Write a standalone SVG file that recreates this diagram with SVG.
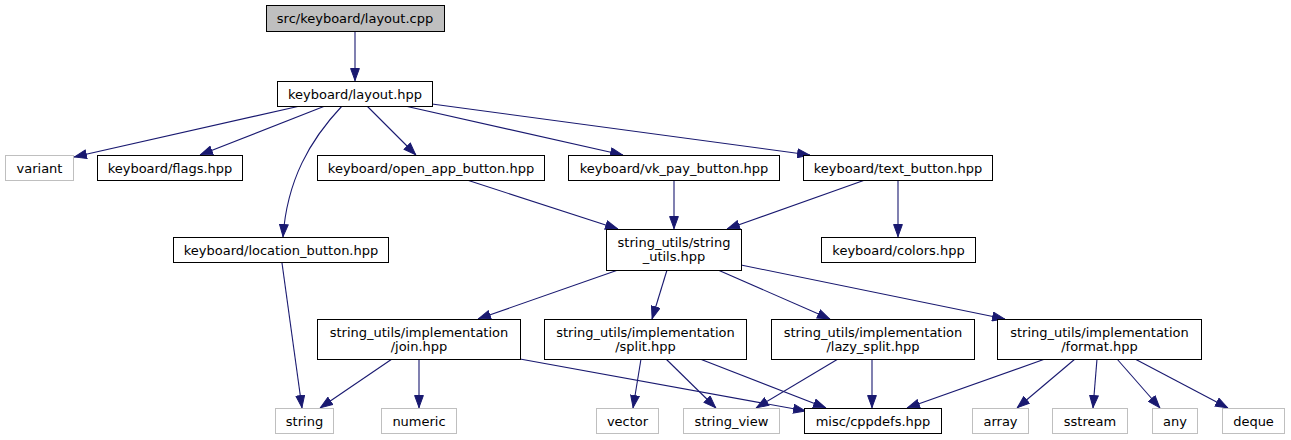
<svg xmlns="http://www.w3.org/2000/svg" width="1291" height="440" viewBox="0 0 1291 440">
<style>
.n rect{fill:#ffffff;stroke:#000000;stroke-width:1}
.g rect{fill:#ffffff;stroke:#bfbfbf;stroke-width:1}
.root rect{fill:#bfbfbf;stroke:#000000;stroke-width:1}
text{font-family:"DejaVu Sans","Liberation Sans",sans-serif;font-size:13px;fill:#000000;text-anchor:middle}
.e path,.e line{stroke:#191970;stroke-width:1.1;fill:none;marker-end:url(#ah)}
</style>
<defs>
<marker id="ah" markerUnits="userSpaceOnUse" markerWidth="13" markerHeight="10" refX="13" refY="5" orient="auto" viewBox="0 0 13 10">
<path d="M0.5,0.6 L12.5,5 L0.5,9.4 z" fill="#191970" stroke="#191970" stroke-width="1"/>
</marker>
</defs>
<rect width="1291" height="440" fill="#ffffff"/>
<g id="edges" class="e">
<line x1="355" y1="31" x2="355" y2="81"/>
<line x1="300" y1="106" x2="74" y2="157"/>
<line x1="325" y1="106" x2="200" y2="155"/>
<path d="M342,106 C310,140 287,180 283,237"/>
<line x1="367" y1="106" x2="416" y2="155"/>
<line x1="405" y1="106" x2="623" y2="155"/>
<line x1="432" y1="104" x2="810" y2="155"/>
<line x1="467" y1="180" x2="618" y2="229"/>
<line x1="674" y1="180" x2="674" y2="229"/>
<line x1="865" y1="180" x2="727" y2="229"/>
<line x1="898" y1="180" x2="898" y2="237"/>
<line x1="282" y1="263" x2="302" y2="408"/>
<line x1="618" y1="270" x2="478" y2="319"/>
<line x1="667" y1="270" x2="652" y2="319"/>
<line x1="718" y1="270" x2="830" y2="319"/>
<line x1="741" y1="265" x2="1005" y2="319"/>
<line x1="392" y1="359" x2="320" y2="408"/>
<line x1="419" y1="359" x2="419" y2="408"/>
<line x1="520" y1="359" x2="806" y2="411"/>
<line x1="641" y1="359" x2="633" y2="408"/>
<line x1="666" y1="359" x2="716" y2="408"/>
<line x1="700" y1="359" x2="826" y2="408"/>
<line x1="838" y1="359" x2="756" y2="408"/>
<line x1="872" y1="359" x2="872" y2="408"/>
<line x1="1045" y1="359" x2="907" y2="408"/>
<line x1="1075" y1="359" x2="1017" y2="408"/>
<line x1="1097" y1="359" x2="1093" y2="408"/>
<line x1="1117" y1="359" x2="1160" y2="408"/>
<line x1="1135" y1="359" x2="1228" y2="408"/>
</g>
<g id="node_layout_cpp" class="root"><rect x="266.5" y="5.5" width="178" height="26"/><text x="355" y="23">src/keyboard/layout.cpp</text></g>
<g id="node_layout_hpp" class="n"><rect x="277.5" y="81.5" width="155" height="25"/><text x="355" y="98.5">keyboard/layout.hpp</text></g>
<g id="node_variant" class="g"><rect x="5.5" y="155.5" width="68" height="25"/><text x="39.5" y="172.5">variant</text></g>
<g id="node_flags" class="n"><rect x="97.5" y="155.5" width="145" height="25"/><text x="170" y="172.5">keyboard/flags.hpp</text></g>
<g id="node_open_app" class="n"><rect x="317.5" y="155.5" width="227" height="25"/><text x="431" y="172.5">keyboard/open_app_button.hpp</text></g>
<g id="node_vk_pay" class="n"><rect x="568.5" y="155.5" width="211" height="25"/><text x="674" y="172.5">keyboard/vk_pay_button.hpp</text></g>
<g id="node_text_button" class="n"><rect x="803.5" y="155.5" width="189" height="25"/><text x="898" y="172.5">keyboard/text_button.hpp</text></g>
<g id="node_location" class="n"><rect x="173.5" y="237.5" width="215" height="25"/><text x="281" y="254.5">keyboard/location_button.hpp</text></g>
<g id="node_string_utils" class="n"><rect x="606.5" y="229.5" width="135" height="41"/><text x="674" y="247">string_utils/string</text><text x="674" y="261">_utils.hpp</text></g>
<g id="node_colors" class="n"><rect x="821.5" y="237.5" width="154" height="25"/><text x="898.5" y="254.5">keyboard/colors.hpp</text></g>
<g id="node_join" class="n"><rect x="317.5" y="319.5" width="203" height="40"/><text x="419" y="336.5">string_utils/implementation</text><text x="419" y="350.5">/join.hpp</text></g>
<g id="node_split" class="n"><rect x="544.5" y="319.5" width="202" height="40"/><text x="645.5" y="336.5">string_utils/implementation</text><text x="645.5" y="350.5">/split.hpp</text></g>
<g id="node_lazy_split" class="n"><rect x="771.5" y="319.5" width="203" height="40"/><text x="873" y="336.5">string_utils/implementation</text><text x="873" y="350.5">/lazy_split.hpp</text></g>
<g id="node_format" class="n"><rect x="997.5" y="319.5" width="204" height="40"/><text x="1099.5" y="336.5">string_utils/implementation</text><text x="1099.5" y="350.5">/format.hpp</text></g>
<g id="node_string" class="g"><rect x="275.5" y="408.5" width="58" height="25"/><text x="304.5" y="425.5">string</text></g>
<g id="node_numeric" class="g"><rect x="381.5" y="408.5" width="75" height="25"/><text x="419" y="425.5">numeric</text></g>
<g id="node_vector" class="g"><rect x="596.5" y="408.5" width="62" height="25"/><text x="627.5" y="425.5">vector</text></g>
<g id="node_string_view" class="g"><rect x="683.5" y="408.5" width="96" height="25"/><text x="731.5" y="425.5">string_view</text></g>
<g id="node_cppdefs" class="n"><rect x="804.5" y="408.5" width="137" height="25"/><text x="873" y="425.5">misc/cppdefs.hpp</text></g>
<g id="node_array" class="g"><rect x="972.5" y="408.5" width="56" height="25"/><text x="1000.5" y="425.5">array</text></g>
<g id="node_sstream" class="g"><rect x="1052.5" y="408.5" width="75" height="25"/><text x="1090" y="425.5">sstream</text></g>
<g id="node_any" class="g"><rect x="1152.5" y="408.5" width="45" height="25"/><text x="1175" y="425.5">any</text></g>
<g id="node_deque" class="g"><rect x="1222.5" y="408.5" width="62" height="25"/><text x="1253.5" y="425.5">deque</text></g>
</svg>
